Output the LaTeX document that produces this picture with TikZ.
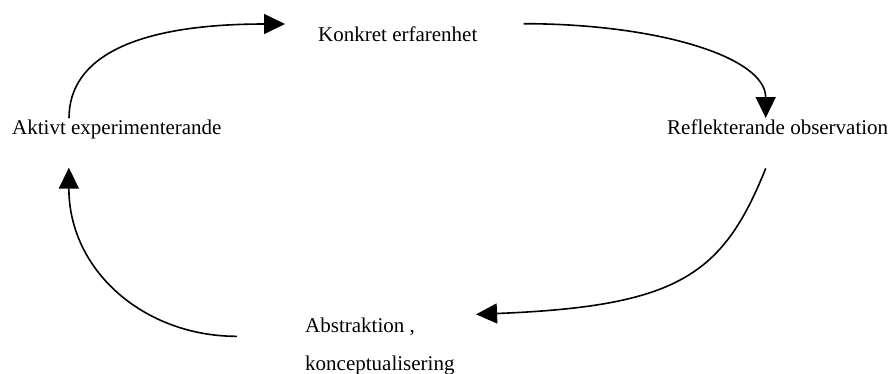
\documentclass[tikz,border=0pt]{standalone}
\usepackage{fontspec}
\setmainfont{Liberation Serif}
\usetikzlibrary{arrows.meta}

\begin{document}
\begin{tikzpicture}[x=1pt, y=-1pt,
        lbl/.style={inner sep=0, anchor=base west, font=\fontsize{21}{25}\selectfont},
        cyc/.style={-{Triangle[length=21pt, width=20pt]}, line width=1.6pt}]

    \useasboundingbox (0,0) rectangle (893,374);

    % Stages:
    \node[lbl] (konkret) at (318,42) {Konkret erfarenhet};
    \node[lbl] (reflekt) at (667,135) {Reflekterande observation};
    \node[lbl] (abstr) at (305,332) {Abstraktion ,};
    \node[lbl] (konc) at (305,370) {konceptualisering};
    \node[lbl] (aktiv) at (12,135) {Aktivt experimenterande};

    % Cycle:
    \draw[cyc] ([xshift=57pt, yshift=2pt]aktiv.north west)
        .. controls +(0,-61) and +(-150,0) .. ([xshift=-33pt, yshift=3pt]konkret.north west);
    \draw[cyc] ([xshift=46pt, yshift=11pt]konkret.east)
        .. controls +(134,0) and +(0,-61) .. ([xshift=-12pt, yshift=2pt]reflekt.north);
    \draw[cyc] ([xshift=-12pt, yshift=-33pt]reflekt.south)
        .. controls +(-43,107) and +(202,-8) .. ([xshift=61pt, yshift=12pt]abstr.east);
    \draw[cyc] ([xshift=-68pt, yshift=-10pt]abstr.west)
        .. controls +(-93,0) and +(0,103) .. ([xshift=-48pt, yshift=-28pt]aktiv.south);
\end{tikzpicture}
\end{document}
